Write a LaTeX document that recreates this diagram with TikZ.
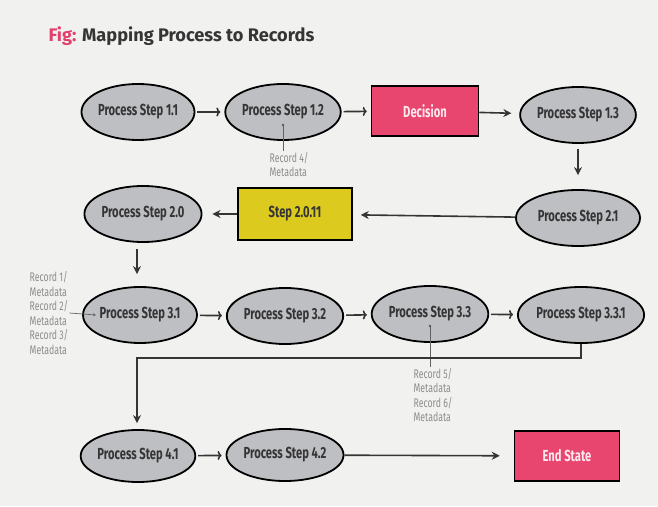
\documentclass[tikz,border=0pt]{standalone}
\usepackage{fontspec}
\usepackage{xcolor}
\usetikzlibrary{shapes.geometric, arrows.meta}
\setmainfont{Fira Sans}
\newfontfamily\condfont[FakeStretch=0.70]{Fira Sans}

\definecolor{bgcol}{HTML}{F1F1EF}
\definecolor{figpink}{HTML}{E2406C}
\definecolor{decpink}{HTML}{E8456F}
\definecolor{stepyel}{HTML}{DCCA1E}
\definecolor{procgray}{HTML}{BEBFC3}
\definecolor{txtgray}{HTML}{353535}
\definecolor{recgray}{HTML}{8C8C8C}

\begin{document}
\begin{tikzpicture}[
    x=1pt, y=1pt,
    font=\condfont\bfseries,
    proc/.style={ellipse, draw=black, fill=procgray, line width=1.8pt,
        minimum width=#1, minimum height=56, inner sep=0pt, text=txtgray,
        font=\condfont\bfseries\fontsize{16}{18}\selectfont},
    proc/.default=112,
    box/.style={rectangle, draw=black, fill=#1, line width=1.5pt,
        minimum width=107, minimum height=50,
        font=\condfont\bfseries\fontsize{16}{18}\selectfont},
    rec/.style={align=left, text=recgray, inner sep=1pt,
        font=\condfont\fontsize{12.5}{14.5}\selectfont},
    recline/.style={draw=recgray!70!black, line width=0.7pt},
    arr/.style={-{Stealth[length=8pt, width=8pt]}, line width=1.6pt, draw=txtgray},
    hop/.style={-{To[length=4pt, width=9pt]}, line width=1.6pt, draw=txtgray,
        shorten <=2pt, shorten >=4pt}
]

    % Background
    \fill[bgcol] (0,0) rectangle (658,506);

    % Title
    \node[anchor=west, font=\bfseries\fontsize{18.2}{20}\selectfont, text=txtgray]
        (title) at (45, 470) {\textcolor{figpink}{Fig:} Mapping Process to Records};

    % Coordinates
    \coordinate (dot12) at (283, 381);
    \coordinate (dot33) at (430, 180);
    \coordinate (tip31) at (96, 191);
    \coordinate (bend)  at (137, 148);

    % Row 1
    \node[proc] (p11) at (138, 394) {Process Step 1.1};
    \node[proc] (p12) at (283, 394) {Process Step 1.2};
    \node[box=decpink, text=white!88!decpink] (dec) at (425, 395) {Decision};
    \node[proc] (p13) at (578, 391) {Process Step 1.3};

    % Row 2
    \node[proc=124] (p21) at (578, 288) {Process Step 2.1};
    \node[box=stepyel, text=txtgray, minimum width=114, minimum height=52]
        (s2011) at (295, 292) {Step 2.0.11};
    \node[proc=108] (p20) at (143, 292) {Process Step 2.0};

    % Row 3
    \node[proc=114] (p31) at (140, 191) {Process Step 3.1};
    \node[proc=110] (p32) at (285, 190) {Process Step 3.2};
    \node[proc=114] (p33) at (430, 192) {Process Step 3.3};
    \node[proc=120] (p331) at (581, 191) {Process Step 3.3.1};

    % Row 4
    \node[proc=110, minimum height=52] (p41) at (138, 50) {Process Step 4.1};
    \node[proc=110, minimum height=52] (p42) at (285, 51) {Process Step 4.2};
    \node[box=decpink, text=white!88!decpink, minimum width=105] (endst) at (567, 50) {End State};

    % Records
    \node[rec, anchor=north] (rec4) at (289, 355) {Record 4/\\Metadata};
    \node[rec] (rec13) at (49, 193) {Record 1/\\Metadata\\Record 2/\\Metadata\\Record 3/\\Metadata};
    \node[rec, anchor=north] (rec56) at (433, 139) {Record 5/\\Metadata\\Record 6/\\Metadata};

    \fill[recgray!60!black] (dot12) circle (1.3pt);
    \fill[recgray!60!black] (dot33) circle (1.3pt);
    \draw[recline] (dot12) -- (dot12 |- rec4.north);
    \draw[recline] (dot33) -- (dot33 |- rec56.north);
    \draw[recline, -{Stealth[length=3pt, width=3pt]}] (rec13.east) -- (tip31);

    % Flow
    \draw[hop] (p11) -- (p12);
    \draw[hop] (p12) -- (dec);
    \draw[arr, shorten >=8pt] (dec) -- (p13);
    \draw[arr, shorten <=5pt, shorten >=14pt] (p13) -- (p21);
    \draw[arr, shorten >=8pt] (p21) -- (s2011);
    \draw[arr, shorten >=10pt] (s2011) -- (p20);
    \draw[arr, shorten <=6pt, shorten >=12pt] (p20.south -| bend) -- (p31.north -| bend);
    \draw[hop] (p31) -- (p32);
    \draw[hop] (p32) -- (p33);
    \draw[hop] (p33) -- (p331);
    \draw[arr, line width=1.7pt, shorten >=6pt] (p331.south) |- (bend) -- (bend |- p41.north);
    \draw[hop] (p41) -- (p42);
    \draw[arr, shorten >=14pt] (p42) -- (endst);

\end{tikzpicture}
\end{document}
